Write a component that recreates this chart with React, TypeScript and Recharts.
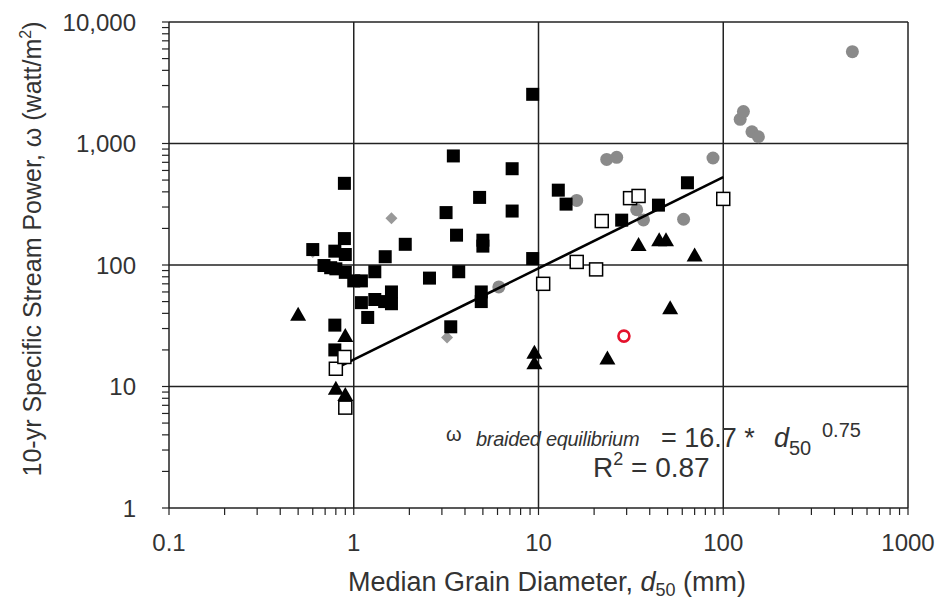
import React from 'react';
import { ScatterChart, Scatter, XAxis, YAxis, ReferenceLine } from 'recharts';

const FONT = '"Liberation Sans", Arial, Helvetica, sans-serif';

const xTicks = [
  0.1, 0.2, 0.3, 0.4, 0.5, 0.6, 0.7, 0.8, 0.9,
  1, 2, 3, 4, 5, 6, 7, 8, 9,
  10, 20, 30, 40, 50, 60, 70, 80, 90,
  100, 200, 300, 400, 500, 600, 700, 800, 900,
  1000,
];
const yTicks = [
  1, 2, 3, 4, 5, 6, 7, 8, 9,
  10, 20, 30, 40, 50, 60, 70, 80, 90,
  100, 200, 300, 400, 500, 600, 700, 800, 900,
  1000, 2000, 3000, 4000, 5000, 6000, 7000, 8000, 9000,
  10000,
];
const xLabels: Record<number, string> = { 0.1: '0.1', 1: '1', 10: '10', 100: '100', 1000: '1000' };
const yLabels: Record<number, string> = { 1: '1', 10: '10', 100: '100', 1000: '1,000', 10000: '10,000' };
const xGrid = [1, 10, 100, 1000];
const yGrid = [10, 100, 1000, 10000];

const blackSquares = [
  { x: 0.6, y: 134 }, { x: 0.69, y: 99 }, { x: 0.75, y: 95 }, { x: 0.79, y: 130 },
  { x: 0.8, y: 93 }, { x: 0.89, y: 470 }, { x: 0.89, y: 165 }, { x: 0.9, y: 122 },
  { x: 0.9, y: 87 }, { x: 0.79, y: 32 }, { x: 0.79, y: 20 }, { x: 1.0, y: 74 },
  { x: 1.1, y: 74 }, { x: 1.1, y: 49 }, { x: 1.19, y: 37 }, { x: 1.3, y: 88 },
  { x: 1.3, y: 52 }, { x: 1.48, y: 117 }, { x: 1.47, y: 50 }, { x: 1.6, y: 60 },
  { x: 1.6, y: 48 }, { x: 1.9, y: 148 }, { x: 2.57, y: 78 }, { x: 3.16, y: 270 },
  { x: 3.35, y: 31 }, { x: 3.46, y: 790 }, { x: 3.6, y: 176 }, { x: 3.7, y: 88 },
  { x: 4.8, y: 360 }, { x: 5.0, y: 160 }, { x: 5.0, y: 143 }, { x: 4.9, y: 60 },
  { x: 4.9, y: 50 }, { x: 7.2, y: 620 }, { x: 7.2, y: 278 }, { x: 9.3, y: 2540 },
  { x: 9.3, y: 113 }, { x: 12.8, y: 413 }, { x: 14.1, y: 317 }, { x: 28.2, y: 234 },
  { x: 44.6, y: 311 }, { x: 64, y: 475 },
];
const openSquares = [
  { x: 0.8, y: 14 }, { x: 0.89, y: 17.5 }, { x: 0.9, y: 6.7 }, { x: 10.6, y: 70 },
  { x: 16.1, y: 106 }, { x: 20.5, y: 92 }, { x: 22, y: 230 }, { x: 31.3, y: 355 },
  { x: 34.8, y: 370 }, { x: 100, y: 350 },
];
const triangles = [
  { x: 0.5, y: 39 }, { x: 0.9, y: 26 }, { x: 0.8, y: 9.6 }, { x: 0.9, y: 8.5 },
  { x: 9.5, y: 19 }, { x: 9.5, y: 15.5 }, { x: 23.6, y: 17 }, { x: 34.8, y: 146 },
  { x: 45, y: 160 }, { x: 49, y: 160 }, { x: 70, y: 120 }, { x: 51.6, y: 44 },
];
const grayCircles = [
  { x: 6.1, y: 66 }, { x: 16.1, y: 340 }, { x: 23.4, y: 740 }, { x: 26.5, y: 770 },
  { x: 34, y: 285 }, { x: 37, y: 235 }, { x: 61, y: 238 }, { x: 88, y: 760 },
  { x: 123.5, y: 1580 }, { x: 128.6, y: 1830 }, { x: 143, y: 1250 }, { x: 155, y: 1136 },
  { x: 500, y: 5700 },
];
const grayDiamonds = [
  { x: 1.6, y: 242 }, { x: 3.2, y: 25.3 }, { x: 0.6, y: 128 },
];
const redCircle = [{ x: 29, y: 26 }];
const trendLine = [{ x: 0.8, y: 14.1 }, { x: 100, y: 528 }];

const BlackSquare = (p: any) => (
  <rect x={p.cx - 6.5} y={p.cy - 6.5} width={13} height={13} fill="#000" />
);
const OpenSquare = (p: any) => (
  <rect x={p.cx - 6.5} y={p.cy - 6.5} width={13} height={13} fill="#fff" stroke="#000" strokeWidth={1.5} />
);
const Triangle = (p: any) => (
  <path d={`M${p.cx},${p.cy - 8} L${p.cx + 8},${p.cy + 6} L${p.cx - 8},${p.cy + 6} Z`} fill="#000" />
);
const GrayCircle = (p: any) => <circle cx={p.cx} cy={p.cy} r={6.5} fill="#8a8a8a" />;
const GrayDiamond = (p: any) => (
  <path d={`M${p.cx},${p.cy - 6} L${p.cx + 6},${p.cy} L${p.cx},${p.cy + 6} L${p.cx - 6},${p.cy} Z`} fill="#999" />
);
const RedCircle = (p: any) => (
  <circle cx={p.cx} cy={p.cy} r={5.5} fill="none" stroke="#e4122c" strokeWidth={2.6} />
);
const NoShape = () => <g />;

export default function App() {
  return (
    <div style={{ position: 'absolute', left: 0, top: 0, width: 939, height: 605, background: '#fff' }}>
      <ScatterChart width={939} height={605} margin={{ top: 22, right: 31, bottom: 0, left: 0 }}>
        <XAxis
          type="number"
          dataKey="x"
          scale="log"
          domain={[0.1, 1000]}
          allowDataOverflow
          ticks={xTicks}
          interval={0}
          height={97}
          tickSize={7}
          tickMargin={19}
          tickFormatter={(v: number) => xLabels[v] ?? ''}
          tick={{ fill: '#333', fontSize: 24, fontFamily: FONT }}
          axisLine={{ stroke: '#222', strokeWidth: 1.5 }}
          tickLine={{ stroke: '#222', strokeWidth: 1.2 }}
        />
        <YAxis
          type="number"
          dataKey="y"
          scale="log"
          domain={[1, 10000]}
          allowDataOverflow
          ticks={yTicks}
          interval={0}
          width={169}
          tickSize={7}
          tickMargin={26}
          tickFormatter={(v: number) => yLabels[v] ?? ''}
          tick={{ fill: '#333', fontSize: 24, fontFamily: FONT }}
          axisLine={{ stroke: '#222', strokeWidth: 1.5 }}
          tickLine={{ stroke: '#222', strokeWidth: 1.2 }}
        />
        {xGrid.map((v) => (
          <ReferenceLine key={'gx' + v} x={v} stroke="#222" strokeWidth={1.5} />
        ))}
        {yGrid.map((v) => (
          <ReferenceLine key={'gy' + v} y={v} stroke="#222" strokeWidth={1.5} />
        ))}
        <Scatter data={grayDiamonds} shape={GrayDiamond} isAnimationActive={false} />
        <Scatter data={grayCircles} shape={GrayCircle} isAnimationActive={false} />
        <Scatter data={blackSquares} shape={BlackSquare} isAnimationActive={false} />
        <Scatter data={trendLine} shape={NoShape} line={{ stroke: '#000', strokeWidth: 2.6 }} isAnimationActive={false} />
        <Scatter data={openSquares} shape={OpenSquare} isAnimationActive={false} />
        <Scatter data={triangles} shape={Triangle} isAnimationActive={false} />
        <Scatter data={redCircle} shape={RedCircle} isAnimationActive={false} />
      </ScatterChart>
      <svg
        width={939}
        height={605}
        style={{ position: 'absolute', left: 0, top: 0, pointerEvents: 'none' }}
        fontFamily={FONT}
      >
        <text x={446} y={441} fontSize={20} fill="#333">ω</text>
        <text x={476} y={446} fontSize={20} fontStyle="italic" fill="#333" letterSpacing={-0.3}>braided equilibrium</text>
        <text x={661} y={447} fontSize={27} fill="#333">= 16.7 *</text>
        <text x={774} y={447} fontSize={27} fontStyle="italic" fill="#333">d</text>
        <text x={789} y={455} fontSize={20} fill="#333">50</text>
        <text x={822} y={437} fontSize={20} fill="#333">0.75</text>
        <text x={593} y={477} fontSize={28} fill="#333">
          R<tspan fontSize={18} dy={-12}>2</tspan>
          <tspan dy={12}> = 0.87</tspan>
        </text>
        <text x={547} y={591} fontSize={27} fill="#333" textAnchor="middle">
          Median Grain Diameter, <tspan fontStyle="italic">d</tspan>
          <tspan fontSize={18} dy={5}>50</tspan>
          <tspan dy={-5}> (mm)</tspan>
        </text>
        <text transform="translate(41,249) rotate(-90)" fontSize={25} fill="#333" textAnchor="middle">
          10-yr Specific Stream Power, ω (watt/m<tspan fontSize={16} dy={-10}>2</tspan>
          <tspan dy={10}>)</tspan>
        </text>
      </svg>
    </div>
  );
}
